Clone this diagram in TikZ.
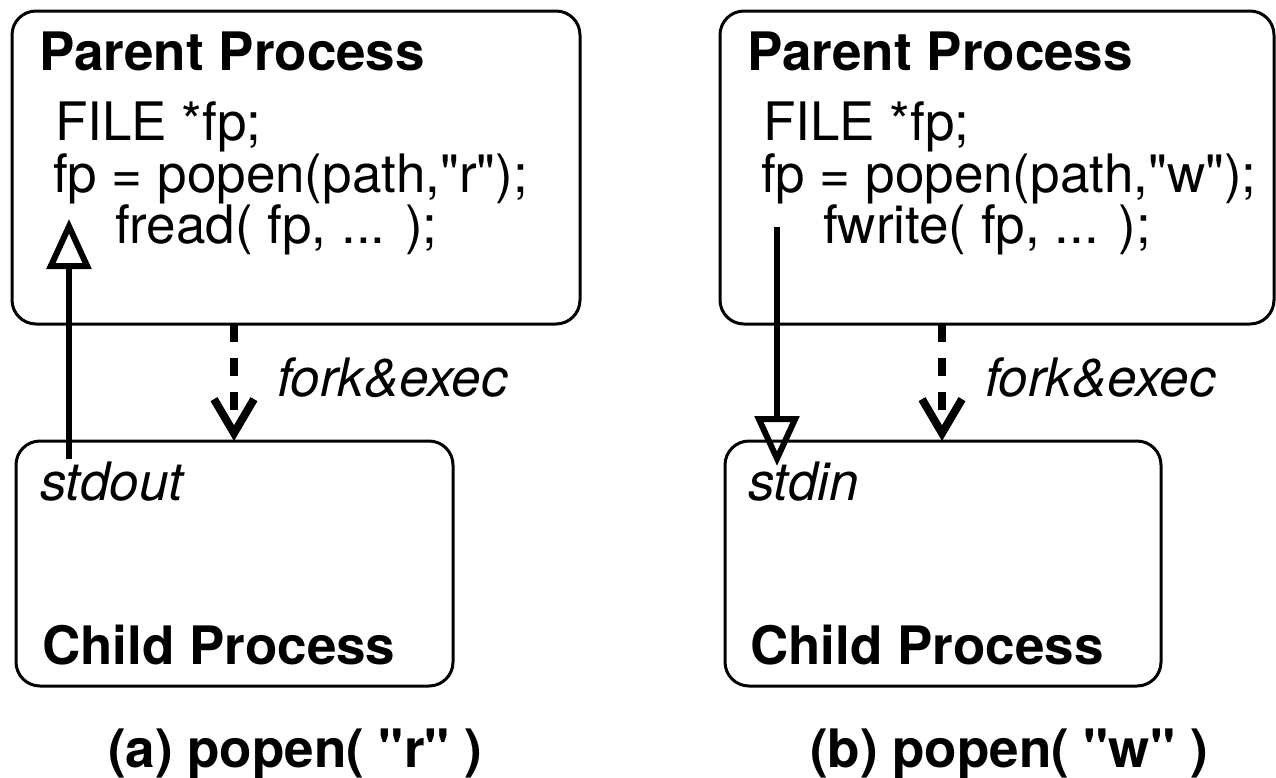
\documentclass[tikz,border=0pt]{standalone}
\usepackage{fontspec}
\setmainfont{TeX Gyre Heros}[Ligatures=TeXOff]
\usetikzlibrary{arrows.meta}

\tikzset{
  procbox/.style={draw, line width=3pt, rounded corners=24pt, rectangle,
    inner sep=0pt, outer sep=0pt, anchor=north west},
  txt/.style={anchor=base west, inner sep=0pt, outer sep=0pt,
    font=\fontsize{53}{57}\selectfont},
  title/.style={txt, font=\fontsize{53}{57}\selectfont\bfseries},
  label/.style={txt, font=\fontsize{53}{57}\selectfont\itshape},
  caption/.style={txt, font=\fontsize{53}{57}\selectfont\bfseries},
  forkarrow/.style={line width=8pt, dash pattern=on 18pt off 16pt,
    -{Straight Barb[length=34pt, width=40pt]}},
  pipearrow/.style={line width=5.5pt,
    -{Triangle[open, length=50pt, width=44pt, line width=6pt]}},
}

\begin{document}
\begin{tikzpicture}[x=1pt, y=1pt]
\useasboundingbox (0,0) rectangle (1276,-777);

% ---------- (a) popen("r") ----------
\node[procbox, minimum width=568pt, minimum height=313pt] (pa) at (12,-11) {};
\node[procbox, minimum width=437pt, minimum height=245pt] (ca) at (16,-441) {};

\node[title] (pat) at (39,-70) {Parent Process};
\node[txt] (pa1) at (55,-140) {FILE *fp;};
\node[txt] (pa2) at (53,-192) {fp = popen(path,"r");};
\node[txt] (pa3) at (115,-243) {fread( fp, ... );};

\node[label] (so) at (40,-500) {stdout};
\node[title] (cat) at (42,-664) {Child Process};
\node[label] (fea) at (277,-396) {fork\&exec};
\node[caption] (capa) at (108,-767) {(a) popen( "r" )};

\coordinate (fxa) at (234,0);
\draw[forkarrow] (pa.south -| fxa) -- (ca.north -| fxa);

\coordinate (outa) at (69,-459);
\coordinate (rda) at (69,-219);
\draw[pipearrow] (outa) -- (rda);

% ---------- (b) popen("w") ----------
\node[procbox, minimum width=554pt, minimum height=313pt] (pb) at (720,-11) {};
\node[procbox, minimum width=436pt, minimum height=245pt] (cb) at (725,-441) {};

\node[title] (pbt) at (747,-70) {Parent Process};
\node[txt] (pb1) at (763,-140) {FILE *fp;};
\node[txt] (pb2) at (761,-192) {fp = popen(path,"w");};
\node[txt] (pb3) at (823,-243) {fwrite( fp, ... );};

\node[label] (si) at (748,-500) {stdin};
\node[title] (cbt) at (750,-664) {Child Process};
\node[label] (feb) at (985,-396) {fork\&exec};
\node[caption] (capb) at (810,-767) {(b) popen( "w" )};

\coordinate (fxb) at (942,0);
\draw[forkarrow] (pb.south -| fxb) -- (cb.north -| fxb);

\coordinate (wrb) at (777,-227);
\coordinate (inb) at (777,-466);
\draw[pipearrow] (wrb) -- (inb);
\end{tikzpicture}
\end{document}
